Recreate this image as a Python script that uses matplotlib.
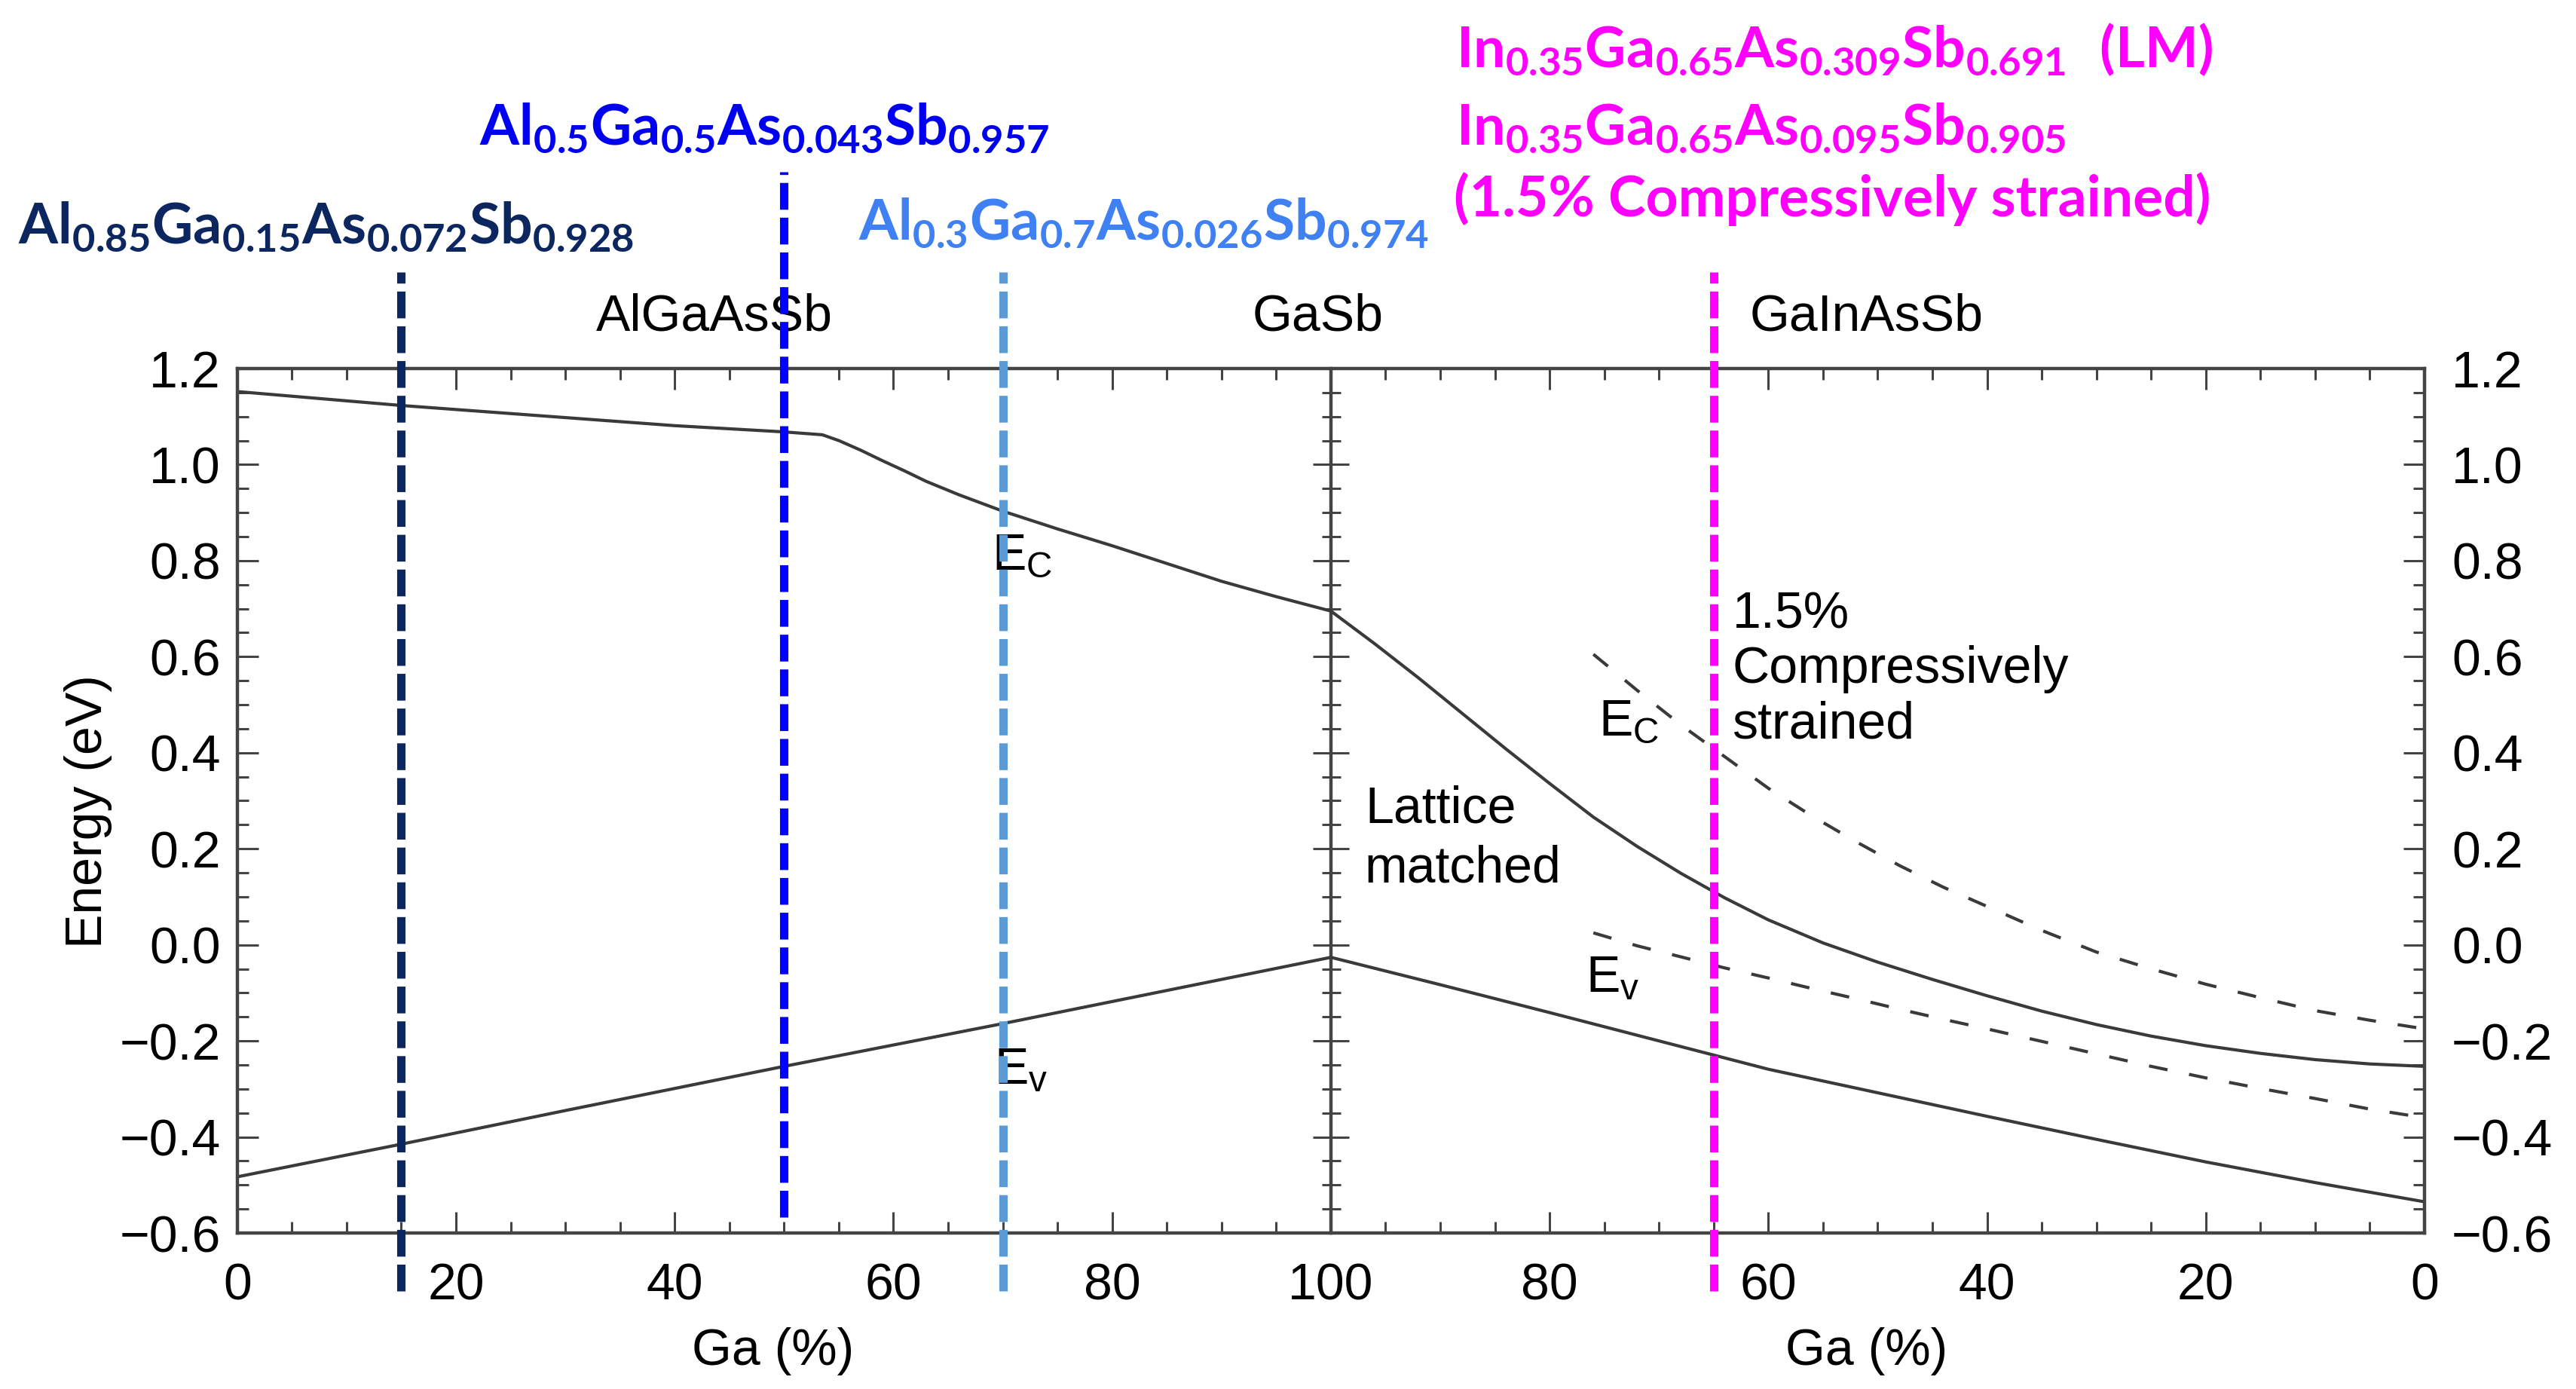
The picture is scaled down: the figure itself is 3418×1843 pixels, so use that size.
import matplotlib
matplotlib.use('Agg')
import matplotlib.pyplot as plt
import numpy as np
from matplotlib.ticker import MultipleLocator, FixedLocator, FuncFormatter

plt.rcParams['font.family'] = ['Liberation Sans', 'DejaVu Sans']
plt.rcParams['mathtext.fontset'] = 'custom'
plt.rcParams['mathtext.rm'] = 'Liberation Sans'
plt.rcParams['mathtext.it'] = 'Liberation Sans:italic'
plt.rcParams['mathtext.bf'] = 'Lato:bold'

# x runs 0..200: left half is Ga % of AlGaAsSb, right half is 200 - Ga % of GaInAsSb
alga_x = [0, 15, 40, 50, 53.5, 55, 57, 59, 61, 63, 66, 70, 75, 80, 85, 90, 95, 100]
alga_ec = [1.152, 1.123, 1.081, 1.068, 1.062, 1.05, 1.03, 1.008, 0.987, 0.965,
           0.937, 0.903, 0.866, 0.831, 0.794, 0.757, 0.725, 0.695]
alga_ev_x = [0, 15, 30, 50, 70, 85, 100]
alga_ev = [-0.483, -0.415, -0.345, -0.253, -0.164, -0.095, -0.026]

gain_ec_x = [100, 104, 108, 112, 116, 120, 124, 128, 132, 136, 140, 145, 150,
             155, 160, 165, 170, 175, 180, 185, 190, 195, 200]
gain_ec = [0.695, 0.627, 0.556, 0.482, 0.408, 0.336, 0.266, 0.205, 0.149,
           0.098, 0.052, 0.004, -0.036, -0.072, -0.106, -0.138, -0.166,
           -0.19, -0.21, -0.226, -0.239, -0.248, -0.253]
gain_ev_x = [100, 110, 120, 130, 140, 150, 160, 170, 180, 190, 200]
gain_ev = [-0.026, -0.083, -0.141, -0.2, -0.259, -0.308, -0.357, -0.405,
           -0.452, -0.495, -0.535]

# 1.5% compressively strained GaInAsSb
strn_x = [124, 128, 132, 136, 140, 144, 148, 152, 156, 160, 165, 170, 175,
          180, 185, 190, 195, 200]
strn_ec = [0.605, 0.53, 0.458, 0.392, 0.326, 0.268, 0.215, 0.165, 0.12, 0.08,
           0.03, -0.015, -0.05, -0.082, -0.11, -0.137, -0.157, -0.175]
strn_ev = [0.025, -0.002, -0.025, -0.048, -0.069, -0.091, -0.112, -0.134,
           -0.155, -0.175, -0.201, -0.227, -0.253, -0.277, -0.299, -0.32,
           -0.342, -0.36]

# marked compositions (x position, energy span of the marker line)
mark_x = [15, 50, 70, 135]
mark_lo = [-0.72, -0.567, -0.72, -0.72]
mark_hi = [1.40, 1.61, 1.40, 1.40]
mark_colors = ['#0C2660', '#0000FF', '#5B9BD5', '#FF00FF']

xtick_pos = [0, 20, 40, 60, 80, 100, 120, 140, 160, 180, 200]
xtick_labels = ['0', '20', '40', '60', '80', '100', '80', '60', '40', '20', '0']

alloy_labels = [
    r'$\mathbf{Al_{0.85}Ga_{0.15}As_{0.072}Sb_{0.928}}$',
    r'$\mathbf{Al_{0.5}Ga_{0.5}As_{0.043}Sb_{0.957}}$',
    r'$\mathbf{Al_{0.3}Ga_{0.7}As_{0.026}Sb_{0.974}}$',
    r'$\mathbf{In_{0.35}Ga_{0.65}As_{0.309}Sb_{0.691}\ \ (LM)}$',
    r'$\mathbf{In_{0.35}Ga_{0.65}As_{0.095}Sb_{0.905}}$',
]
strain_note = '(1.5% Compressively strained)'

ink = '#3a3a3a'
axc = '#444444'
fs = 24.5

fig = plt.figure(figsize=(17.09, 9.215), dpi=200)
ax = fig.add_axes([0.0921, 0.1123, 0.8491, 0.6224])

ax.plot(alga_x, alga_ec, color=ink, lw=1.5)
ax.plot(alga_ev_x, alga_ev, color=ink, lw=1.5)
ax.plot(gain_ec_x, gain_ec, color=ink, lw=1.5)
ax.plot(gain_ev_x, gain_ev, color=ink, lw=1.5)
ax.plot(strn_x, strn_ec, color=ink, lw=1.5, linestyle=(0, (6, 7)))
ax.plot(strn_x, strn_ev, color=ink, lw=1.5, linestyle=(0, (6, 7)))

ax.vlines(mark_x, mark_lo, mark_hi, colors=mark_colors, lw=4,
          linestyles=[(0, (3.2, 0.95))], clip_on=False, zorder=6)

ax.set_xlim(0, 200)
ax.set_ylim(-0.6, 1.2)
ax.set_xticks(xtick_pos, labels=xtick_labels)
ax.xaxis.set_minor_locator(MultipleLocator(5))
ax.yaxis.set_major_locator(MultipleLocator(0.2))
ax.yaxis.set_minor_locator(MultipleLocator(0.05))


def fmt(v, p):
    if abs(v) < 1e-9:
        v = 0.0
    return f'{v:.1f}'.replace('-', '\u2212')


ax.yaxis.set_major_formatter(FuncFormatter(fmt))
ax.tick_params(which='both', direction='in', top=True, right=True,
               color=axc, width=1.1, labelsize=fs)
ax.tick_params(which='major', length=10)
ax.tick_params(which='minor', length=5.5)
ax.tick_params(axis='x', pad=14)
ax.tick_params(axis='y', pad=8)
for s in ax.spines.values():
    s.set_color(axc)
    s.set_linewidth(1.6)

# right-hand labels
sec_r = ax.secondary_yaxis('right')
sec_r.yaxis.set_major_locator(MultipleLocator(0.2))
sec_r.yaxis.set_major_formatter(FuncFormatter(fmt))
sec_r.tick_params(length=0, pad=13, labelsize=fs)
sec_r.spines['right'].set_visible(False)

# GaSb axis in the middle
sec_m = ax.secondary_yaxis(0.5)
sec_m.yaxis.set_major_locator(FixedLocator(np.round(np.arange(-0.4, 1.01, 0.2), 2)))
sec_m.yaxis.set_minor_locator(FixedLocator(np.round(np.arange(-0.55, 1.16, 0.05), 2)))
sec_m.tick_params(which='both', direction='inout', labelright=False,
                  labelleft=False, color=axc, width=1.1)
sec_m.tick_params(which='major', length=17)
sec_m.tick_params(which='minor', length=9)
sec_m.spines['right'].set_color(axc)
sec_m.spines['right'].set_linewidth(1.6)

ax.set_ylabel('Energy (eV)', fontsize=fs)
ax.yaxis.set_label_coords(-0.057, 0.488)
xt = ax.get_xaxis_transform()
ax.text(49, -0.137, 'Ga (%)', transform=xt, ha='center', va='center', fontsize=fs)
ax.text(149, -0.137, 'Ga (%)', transform=xt, ha='center', va='center', fontsize=fs)

ax.text(43.6, 1.307, 'AlGaAsSb', ha='center', va='center', fontsize=fs)
ax.text(98.8, 1.307, 'GaSb', ha='center', va='center', fontsize=fs)
ax.text(149, 1.307, 'GaInAsSb', ha='center', va='center', fontsize=fs)

ax.text(69.0, 0.78, r'$\mathrm{E_C}$', fontsize=fs, va='baseline', zorder=1)
ax.text(69.2, -0.289, r'$\mathrm{E_v}$', fontsize=fs, va='baseline', zorder=1)
ax.text(124.5, 0.435, r'$\mathrm{E_C}$', fontsize=fs, va='baseline')
ax.text(123.3, -0.098, r'$\mathrm{E_v}$', fontsize=fs, va='baseline')
# multi-line texts: baseline alignment is on the last line
ax.text(103.1, 0.130, 'Lattice\nmatched', fontsize=fs, va='baseline',
        linespacing=1.3)
ax.text(136.7, 0.431, '1.5%\nCompressively\nstrained', fontsize=fs,
        va='baseline', linespacing=1.18)

tfs = 27
fig.text(0.0070, 0.8247, alloy_labels[0], color='#0C2660', fontsize=tfs, va='baseline')
fig.text(0.1861, 0.8958, alloy_labels[1], color='#0000F0', fontsize=tfs, va='baseline')
fig.text(0.3332, 0.8275, alloy_labels[2], color='#3F80F2', fontsize=tfs, va='baseline')
fig.text(0.5652, 0.9517, alloy_labels[3], color='#FF00FF', fontsize=tfs, va='baseline')
fig.text(0.5652, 0.8958, alloy_labels[4], color='#FF00FF', fontsize=tfs, va='baseline')
fig.text(0.5644, 0.8443, strain_note, color='#FF00FF', fontsize=tfs, va='baseline',
         family='Lato', fontweight='bold')

fig.savefig('out.png', dpi=200)
